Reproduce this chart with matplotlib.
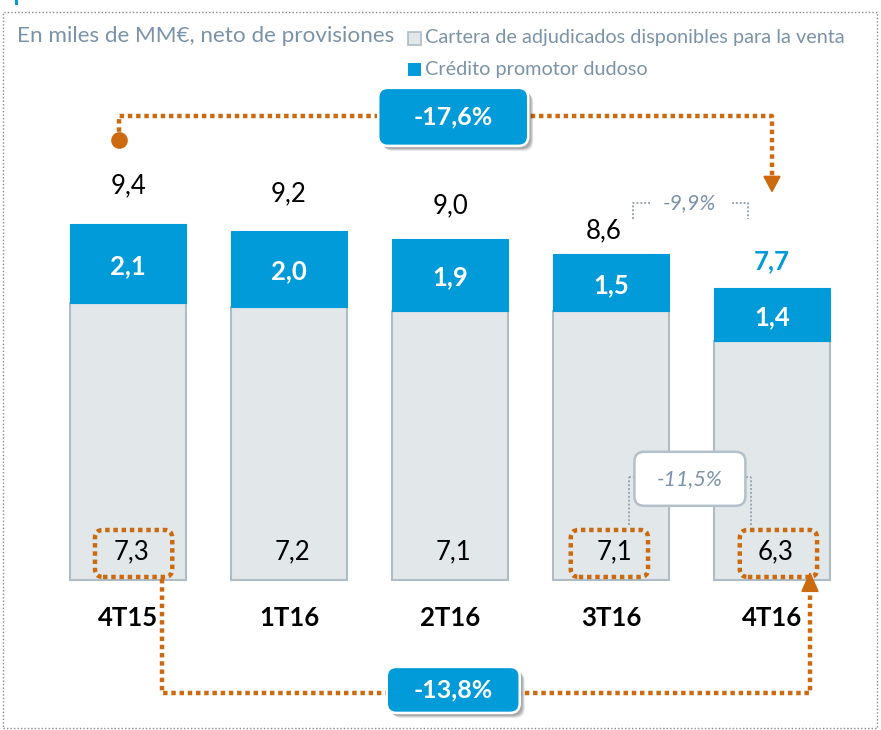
import matplotlib
matplotlib.use('Agg')
import matplotlib.pyplot as plt
from matplotlib.patches import FancyBboxPatch, Rectangle, Polygon
import numpy as np

plt.rcParams['font.family'] = ['Lato', 'DejaVu Sans']

# Datos (miles de MM€)
periodos = ['4T15', '1T16', '2T16', '3T16', '4T16']
adjudicados = [7.3, 7.2, 7.1, 7.1, 6.3]
promotor = [2.1, 2.0, 1.9, 1.5, 1.4]
totales = [9.4, 9.2, 9.0, 8.6, 7.7]
var_total = '-17,6%'
var_adjud = '-13,8%'
var_adjud_trim = '-11,5%'
var_total_trim = '-9,9%'

BLUE = '#009bd8'
GREY_FILL = '#e2e7ea'
GREY_EDGE = '#aebcc6'
ORANGE = '#cc6a10'
SLATE = '#7b93a8'

def fmt(v):
    return f'{v:.1f}'.replace('.', ',')

W, H = 881, 730
fig = plt.figure(figsize=(W / 100, H / 100), dpi=100)
ax = fig.add_axes([0, 0, 1, 1])

# escala: 161 px por categoria, 37.9 px por unidad; barra 0 en x=128 px, base en y=580 px
px_x, px_y = 161.0, 37.9
x0, y0 = 128.0, 580.0
ax.set_xlim(-x0 / px_x, (W - x0) / px_x)
ax.set_ylim(-(H - y0) / px_y, y0 / px_y)
ax.axis('off')
asp = px_x / px_y

x = np.arange(len(periodos))
bw = 0.72
ax.bar(x, adjudicados, bw, color=GREY_FILL, edgecolor=GREY_EDGE, linewidth=1.5, zorder=2)
ax.bar(x, promotor, bw, bottom=adjudicados, color=BLUE, edgecolor=BLUE, linewidth=0.8, zorder=3)

# etiquetas
for i in range(len(periodos)):
    ax.text(i + 0.02, 0.74, fmt(adjudicados[i]), ha='center', va='center', fontsize=18.5,
            color='black', zorder=5)
    ax.text(i, adjudicados[i] + promotor[i] / 2 - 0.06, fmt(promotor[i]), ha='center', va='center',
            fontsize=18.5, fontweight='bold', color='white', zorder=5)
    ax.text(i, -1.0, periodos[i], ha='center', va='center', fontsize=18.5, fontweight='bold',
            color='black')

tot_dx = [0, 0, 0, -0.045, 0]
tot_dy = [1.0, 0.98, 0.86, 0.62, 0.7]
for i, t in enumerate(totales):
    last = i == len(totales) - 1
    ax.text(i + tot_dx[i], t + tot_dy[i], fmt(t), ha='center', va='center', fontsize=18.5,
            color=BLUE if last else 'black', fontweight='bold' if last else 'normal')

dot = dict(color=ORANGE, lw=3.2, dashes=(1, 0.85), dash_capstyle='butt', zorder=6)

# cajas punteadas sobre los adjudicados
bh = 47 / px_y
for i, dx in [(0, 0.035), (3, -0.01), (4, 0.04)]:
    bb = FancyBboxPatch((i + dx - 0.24, 0.08), 0.48, bh,
                        boxstyle='round,pad=0,rounding_size=0.05', mutation_aspect=asp,
                        fill=False, edgecolor=ORANGE, linewidth=3.2, linestyle=(0, (1, 0.85)),
                        zorder=6)
    ax.add_patch(bb)

# flecha superior: total 4T15 -> 4T16
top_y = max(totales) + 2.85
start = (-0.056, totales[0] + 2.2)
ax.plot([start[0], start[0], 4, 4], [start[1], top_y, top_y, totales[-1] + 2.85], **dot)
ax.plot(*start, 'o', color=ORANGE, ms=11, zorder=7)
tip = totales[-1] + 2.55
ax.add_patch(Polygon([[4 - 0.05, tip + 0.4], [4 + 0.05, tip + 0.4], [4, tip]],
                     closed=True, color=ORANGE, zorder=7))

# flecha inferior: adjudicados 4T15 -> 4T16
bot_y = -2.98
ax.plot([0.21, 0.21, 4.236, 4.236], [0.03, bot_y, bot_y, -0.3], **dot)
ax.add_patch(Polygon([[4.236 - 0.05, -0.3], [4.236 + 0.05, -0.3], [4.236, 0.18]],
                     closed=True, color=ORANGE, zorder=7))


def pct_box(cx, cy, w, h, text, face, edge, tcolor, style, weight, fs, shadow):
    r = 0.06
    if shadow:
        for k, a in [(5, 0.10), (4, 0.12), (3, 0.15)]:
            sh = FancyBboxPatch((cx - w / 2 + r + k / px_x, cy - h / 2 + r * asp - k / px_y),
                                w - 2 * r, h - 2 * r * asp,
                                boxstyle=f'round,pad={r},rounding_size={r}', mutation_aspect=asp,
                                facecolor='black', edgecolor='none', alpha=a, zorder=7)
            ax.add_patch(sh)
    b = FancyBboxPatch((cx - w / 2 + r, cy - h / 2 + r * asp), w - 2 * r, h - 2 * r * asp,
                       boxstyle=f'round,pad={r},rounding_size={r}', mutation_aspect=asp,
                       facecolor=face, edgecolor=edge, linewidth=1.8, zorder=8)
    ax.add_patch(b)
    ax.text(cx, cy, text, ha='center', va='center', color=tcolor, fontsize=fs,
            fontstyle=style, fontweight=weight, zorder=9)


pct_box(2.02, top_y - 0.03, 150 / px_x, 58 / px_y, var_total, BLUE, 'white', 'white',
        'normal', 'bold', 18, True)
pct_box(2.02, bot_y + 0.08, 133 / px_x, 46 / px_y, var_adjud, BLUE, 'white', 'white',
        'normal', 'bold', 18, True)

# variaciones trimestrales en gris
gdot = dict(color='#9aa7b1', lw=1.4, linestyle=(0, (1, 1)), zorder=6)
ax.plot([3.11, 3.11], [1.45, 2.72], **gdot)
ax.plot([3.11, 3.14], [2.72, 2.72], **gdot)
ax.plot([3.87, 3.87], [1.45, 2.72], **gdot)
ax.plot([3.84, 3.87], [2.72, 2.72], **gdot)
pct_box(3.49, 2.67, 111 / px_x, 54 / px_y, var_adjud_trim, 'white', '#b3c0ca', SLATE,
        'italic', 'normal', 15.5, False)

ax.plot([3.137, 3.137, 3.242], [9.52, 9.95, 9.95], **gdot)
ax.plot([3.753, 3.853, 3.853], [9.95, 9.95, 9.52], **gdot)
ax.text(3.49, 9.95, var_total_trim, ha='center', va='center', color=SLATE, fontsize=15.5,
        fontstyle='italic')

# titulo y leyenda
ax.text(17, H - 36, 'En miles de MM€, neto de provisiones', transform=None,
        fontsize=16.2, color=SLATE, va='center', ha='left')
fig.patches.append(Rectangle((408, H - 45), 13, 13, transform=None, facecolor=GREY_FILL,
                             edgecolor=GREY_EDGE, linewidth=1.2))
fig.patches.append(Rectangle((408, H - 76), 13, 13, transform=None, facecolor=BLUE,
                             edgecolor='none'))
ax.text(425, H - 38, 'Cartera de adjudicados disponibles para la venta', transform=None,
        fontsize=14.3, color=SLATE, va='center', ha='left')
ax.text(425, H - 69, 'Crédito promotor dudoso', transform=None,
        fontsize=14.3, color=SLATE, va='center', ha='left')

# marco punteado exterior
fig.patches.append(Rectangle((3, 2), 874, H - 14, transform=None, fill=False,
                             edgecolor='#8a8a8a', linewidth=1.0, linestyle=(0, (1, 1.5))))
fig.patches.append(Rectangle((15, H - 5), 3, 5, transform=None, facecolor=BLUE, edgecolor='none'))

fig.savefig('out.png', dpi=100)
